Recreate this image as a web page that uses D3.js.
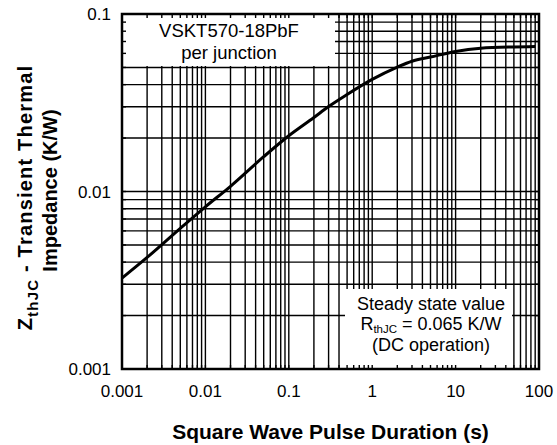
<!DOCTYPE html>
<html>
<head>
<meta charset="utf-8">
<script src="https://cdn.jsdelivr.net/npm/d3@7"></script>
<style>
  body { margin: 0; background: #fff; }
  text { font-family: "Liberation Sans", Arial, Helvetica, sans-serif; fill: #000; }
</style>
</head>
<body>
<div id="grafico"></div>
<script>
let duracion = [0.001, 0.002, 0.005, 0.01, 0.02, 0.05, 0.1, 0.2, 0.3, 0.5, 1, 2, 3, 5, 10, 20, 50, 90];
let impedancia = [0.00325, 0.00425, 0.0062, 0.0082, 0.0107, 0.0157, 0.0206, 0.0261, 0.0301, 0.0352, 0.0428, 0.0502, 0.0542, 0.0572, 0.0615, 0.0641, 0.0652, 0.0655];

let ticks_x = [0.001, 0.01, 0.1, 1, 10, 100];
let etiquetas_x = ["0.001", "0.01", "0.1", "1", "10", "100"];
let ticks_y = [0.001, 0.01, 0.1];
let etiquetas_y = ["0.001", "0.01", "0.1"];

let texto_caja1 = ["VSKT570-18PbF", "per junction"];
let texto_caja2 = ["Steady state value", "(DC operation)"];

let margin = {top: 14, right: 18, bottom: 76, left: 122},
    width = 557 - margin.left - margin.right,
    height = 445 - margin.top - margin.bottom;

let svg = d3.select("#grafico")
    .append("svg")
    .attr("width", 557)
    .attr("height", 445)
    .append("g")
    .attr("transform", "translate(" + margin.left + "," + margin.top + ")");

let x = d3.scaleLog()
    .domain([0.001, 100])
    .range([0, width]);

let y = d3.scaleLog()
    .domain([0.001, 0.1])
    .range([height, 0]);

// lineas menores de cada decada
function menores(desde, hasta) {
    let lista = [];
    for (let e = desde; e < hasta; e++) {
        for (let m = 1; m <= 9; m++) {
            lista.push(m * Math.pow(10, e));
        }
    }
    lista.push(Math.pow(10, hasta));
    return lista;
}
let grid_x = menores(-3, 2);
let grid_y = menores(-3, -1);

svg.append("g")
    .selectAll("line")
    .data(grid_x)
    .enter()
    .append("line")
    .attr("x1", d => x(d)).attr("x2", d => x(d))
    .attr("y1", 0).attr("y2", height)
    .attr("stroke", "#000")
    .attr("stroke-width", 1.4);

svg.append("g")
    .selectAll("line")
    .data(grid_y)
    .enter()
    .append("line")
    .attr("y1", d => y(d)).attr("y2", d => y(d))
    .attr("x1", 0).attr("x2", width)
    .attr("stroke", "#000")
    .attr("stroke-width", 1.4);

// cajas blancas de texto
svg.append("rect")
    .attr("x", 0).attr("y", 0)
    .attr("width", 213).attr("height", 52)
    .attr("fill", "#fff");

svg.append("rect")
    .attr("x", 223).attr("y", 275)
    .attr("width", 167).attr("height", height - 275)
    .attr("fill", "#fff");

// marcas hacia dentro en los cuatro lados
let marca = 4;
let marcas = svg.append("g").attr("stroke", "#000").attr("stroke-width", 1.4);
grid_x.forEach(function (d) {
    marcas.append("line").attr("x1", x(d)).attr("x2", x(d)).attr("y1", 0).attr("y2", marca);
    marcas.append("line").attr("x1", x(d)).attr("x2", x(d)).attr("y1", height).attr("y2", height - marca);
});
grid_y.forEach(function (d) {
    marcas.append("line").attr("y1", y(d)).attr("y2", y(d)).attr("x1", 0).attr("x2", marca);
    marcas.append("line").attr("y1", y(d)).attr("y2", y(d)).attr("x1", width).attr("x2", width - marca);
});

svg.append("rect")
    .attr("x", 0).attr("y", 0)
    .attr("width", width).attr("height", height)
    .attr("fill", "none")
    .attr("stroke", "#000")
    .attr("stroke-width", 2.5);

// curva
let linea = d3.line()
    .x((d, i) => x(duracion[i]))
    .y((d, i) => y(impedancia[i]))
    .curve(d3.curveMonotoneX);

svg.append("path")
    .datum(duracion)
    .attr("d", linea)
    .attr("fill", "none")
    .attr("stroke", "#000")
    .attr("stroke-width", 3);

// etiquetas de los ejes
svg.append("g")
    .selectAll("text")
    .data(ticks_x)
    .enter()
    .append("text")
    .attr("x", d => x(d))
    .attr("y", height + 28)
    .attr("text-anchor", "middle")
    .style("font-size", "17px")
    .text((d, i) => etiquetas_x[i]);

svg.append("g")
    .selectAll("text")
    .data(ticks_y)
    .enter()
    .append("text")
    .attr("x", -11)
    .attr("y", d => y(d) + 6)
    .attr("text-anchor", "end")
    .style("font-size", "17px")
    .text((d, i) => etiquetas_y[i]);

svg.append("text")
    .attr("x", width / 2)
    .attr("y", height + 70)
    .attr("text-anchor", "middle")
    .style("font-size", "21px")
    .style("font-weight", "bold")
    .text("Square Wave Pulse Duration (s)");

let titulo_y = svg.append("text")
    .attr("transform", "rotate(-90)")
    .attr("x", -height / 2 - 6)
    .attr("y", -90)
    .attr("text-anchor", "middle")
    .style("font-size", "20px")
    .style("font-weight", "bold")
    .style("letter-spacing", "1.2px");
titulo_y.append("tspan").text("Z");
titulo_y.append("tspan").attr("dy", 6).style("font-size", "15px").text("thJC");
titulo_y.append("tspan").attr("dy", -6).text(" - Transient Thermal");

svg.append("text")
    .attr("transform", "rotate(-90)")
    .attr("x", -height / 2 + 1)
    .attr("y", -65)
    .attr("text-anchor", "middle")
    .style("font-size", "20px")
    .style("font-weight", "bold")
    .text("Impedance (K/W)");

// texto de las cajas
svg.append("g")
    .selectAll("text")
    .data(texto_caja1)
    .enter()
    .append("text")
    .attr("x", 107)
    .attr("y", (d, i) => 23 + i * 22)
    .attr("text-anchor", "middle")
    .style("font-size", "18.5px")
    .text(d => d);

svg.append("text")
    .attr("x", 309)
    .attr("y", 296)
    .attr("text-anchor", "middle")
    .style("font-size", "18px")
    .text(texto_caja2[0]);

let rth = svg.append("text")
    .attr("x", 309)
    .attr("y", 316)
    .attr("text-anchor", "middle")
    .style("font-size", "18px");
rth.append("tspan").text("R");
rth.append("tspan").attr("dy", 3).style("font-size", "11.5px").text("thJC");
rth.append("tspan").attr("dy", -3).text(" = 0.065 K/W");

svg.append("text")
    .attr("x", 309)
    .attr("y", 337)
    .attr("text-anchor", "middle")
    .style("font-size", "18px")
    .text(texto_caja2[1]);
</script>
</body>
</html>
